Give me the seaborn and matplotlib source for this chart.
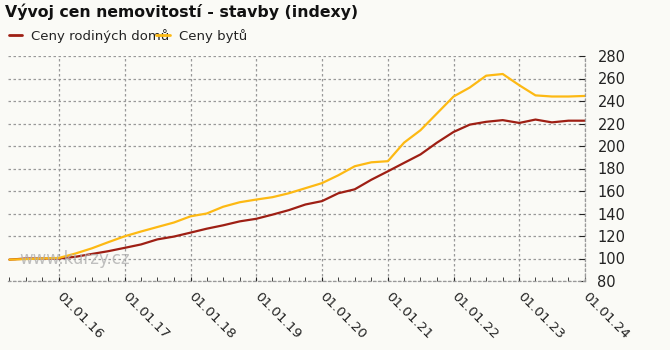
import matplotlib
matplotlib.use("Agg")
import matplotlib.pyplot as plt
import matplotlib.dates as mdates
from matplotlib.lines import Line2D
import seaborn as sns
import pandas as pd

dates = pd.date_range("2015-04-01", "2024-01-01", freq="QS")
domy = [99, 100, 100, 100, 101.5, 104, 106.5, 109.5, 112.5, 117, 119.5, 123,
        126.5, 129.5, 133, 135.3, 139, 143, 148, 151, 158, 161.5, 170, 177.5,
        185, 192.5, 203, 212.5, 219, 221.5, 223, 220.5, 223.5, 221, 222.5, 222.5]
byty = [99, 99.5, 100, 100.5, 104.4, 109, 114.5, 119.8, 124, 128, 132, 137.5,
        140, 146, 150, 152.4, 154.5, 158, 162.5, 167, 174, 182, 185.5, 186.5,
        203, 214, 229, 244, 252, 262.5, 264, 254, 245, 244, 244, 244.5]
series_names = ["Ceny rodiných domů", "Ceny bytů"]
colors = ["#9e1f14", "#fdb913"]
title = "Vývoj cen nemovitostí - stavby (indexy)"
yticks = [80, 100, 120, 140, 160, 180, 200, 220, 240, 260, 280]

df = pd.concat([
    pd.DataFrame({"date": dates, "value": domy, "series": series_names[0]}),
    pd.DataFrame({"date": dates, "value": byty, "series": series_names[1]}),
])

sns.set_style("white")
plt.rcParams["font.family"] = ["DejaVu Sans"]
bg = "#fafaf6"
fig = plt.figure(figsize=(6.7, 3.5), dpi=100, facecolor=bg)
ax = fig.add_axes([8 / 670, 69 / 350, 577 / 670, 225 / 350])
ax.set_facecolor(bg)

sns.lineplot(data=df, x="date", y="value", hue="series", palette=colors,
             hue_order=series_names, linewidth=1.6, ax=ax, legend=False)

ax.set_xlim(dates[0] - pd.Timedelta(days=8), dates[-1])
ax.set_ylim(80, 280)
ax.set_yticks(yticks)
ax.yaxis.tick_right()
ax.set_xlabel("")
ax.set_ylabel("")
ax.xaxis.set_major_locator(mdates.YearLocator())
ax.xaxis.set_major_formatter(mdates.DateFormatter("%d.%m.%y"))
ax.xaxis.set_minor_locator(mdates.MonthLocator(bymonth=[4, 7, 10]))
ax.grid(True, which="major", color="#999999", linestyle=(0, (2, 2)), linewidth=0.9)
for s in ["left", "top"]:
    ax.spines[s].set_visible(False)
for s in ["right", "bottom"]:
    ax.spines[s].set_color("#999999")
    ax.spines[s].set_linestyle((0, (2, 2)))
    ax.spines[s].set_linewidth(0.9)
ax.tick_params(axis="y", which="major", direction="in", length=4, color="#222222",
               labelsize=10.5, pad=9, labelcolor="#222222", right=True)
ax.tick_params(axis="x", which="major", direction="in", length=3, color="#222222",
               labelsize=9.7, pad=10, labelcolor="#222222", bottom=True)
ax.tick_params(axis="x", which="minor", direction="in", length=3, color="#222222", bottom=True)
for lab in ax.get_xticklabels():
    lab.set_rotation(-45)
    lab.set_ha("left")
    lab.set_va("center")
    lab.set_rotation_mode("anchor")

ax.text(0.02, 0.1, "www.kurzy.cz", transform=ax.transAxes, fontsize=12,
        color="#b0b0b0", alpha=0.8, va="center", ha="left", zorder=5)

fig.text(5 / 670, 1 - 12 / 350, title, fontsize=11.3, fontweight="bold",
         color="#111111", va="center", ha="left")

handles = [Line2D([0], [0], color=c, lw=2) for c in colors]
leg = fig.legend(handles, series_names, loc="center left",
                 bbox_to_anchor=(-3 / 670, 1 - 36 / 350), ncol=2, frameon=False,
                 fontsize=9.5, handlelength=1.0, handletextpad=0.7,
                 columnspacing=-1.0, labelcolor="#222222")

fig.savefig("out.png", dpi=100, facecolor=bg)
